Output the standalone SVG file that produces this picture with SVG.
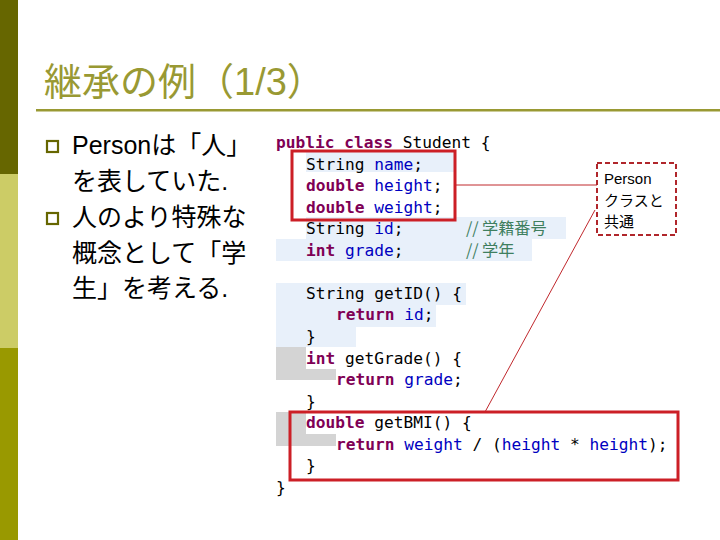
<svg xmlns="http://www.w3.org/2000/svg" width="720" height="540" viewBox="0 0 720 540">
<style>
.c{font-family:"DejaVu Sans Mono","Liberation Mono",monospace;font-size:16.2px;fill:#000}
.k{fill:#7f0055;font-weight:bold}
.f{fill:#0000c0}
.m{fill:#3f7f5f;font-family:"Noto Sans CJK JP",sans-serif}
.b{font-family:"Liberation Sans","Noto Sans CJK JP",sans-serif;font-size:25px;fill:#000}
.hl{fill:#e8f0fa}
.gr{fill:#d4d4d4}
.n{font-family:"Liberation Sans","Noto Sans CJK JP",sans-serif;font-size:15px}
</style>
<rect width="720" height="540" fill="#fff"/>
<rect x="0" y="0" width="18" height="174" fill="#666600"/>
<rect x="0" y="174" width="18" height="174" fill="#cccc66"/>
<rect x="0" y="348" width="18" height="192" fill="#999900"/>
<text x="44" y="95" font-family="Liberation Sans,'Noto Sans CJK JP',sans-serif" font-size="38" fill="#999933">継承の例（1/3）</text>
<rect x="36" y="109" width="684" height="2.5" fill="#999933"/>
<g id="bullets">
<rect x="47" y="141" width="11" height="11" fill="none" stroke="#666600" stroke-width="2.2"/>
<rect x="47" y="213" width="11" height="11" fill="none" stroke="#666600" stroke-width="2.2"/>
<text class="b" x="72" y="154">Personは「人」</text>
<text class="b" x="72" y="190">を表していた.</text>
<text class="b" x="72" y="226">人のより特殊な</text>
<text class="b" x="72" y="262">概念として「学</text>
<text class="b" x="72" y="297">生」を考える.</text>
</g>
<g id="highlights">
<rect class="hl" x="306" y="152" width="150" height="20"/>
<rect class="hl" x="306" y="217" width="190" height="44"/>
<rect class="hl" x="276" y="239" width="30" height="22"/>
<rect class="hl" x="496" y="217" width="70" height="22"/>
<rect class="hl" x="496" y="239" width="36" height="22"/>
<rect class="hl" x="276" y="283" width="190" height="22"/>
<rect class="hl" x="276" y="305" width="160" height="22"/>
<rect class="hl" x="276" y="327" width="80" height="20"/>
<rect class="gr" x="276" y="347" width="30" height="22"/>
<rect class="gr" x="276" y="369" width="60" height="11"/>
<rect class="gr" x="276" y="412" width="30" height="22"/>
<rect class="gr" x="276" y="434" width="60" height="12"/>
</g>
<g id="code" class="c">
<text x="276" y="148"><tspan class="k">public class</tspan> Student {</text>
<text x="306" y="170">String <tspan class="f">name</tspan>;</text>
<text x="306" y="191"><tspan class="k">double</tspan> <tspan class="f">height</tspan>;</text>
<text x="306" y="213"><tspan class="k">double</tspan> <tspan class="f">weight</tspan>;</text>
<text x="306" y="234">String <tspan class="f">id</tspan>;</text>
<text y="234" class="m"><tspan x="466">//</tspan><tspan x="482">学籍番号</tspan></text>
<text x="306" y="256"><tspan class="k">int</tspan> <tspan class="f">grade</tspan>;</text>
<text y="256" class="m"><tspan x="466">//</tspan><tspan x="482">学年</tspan></text>
<text x="306" y="299">String getID() {</text>
<text x="336" y="320"><tspan class="k">return</tspan> <tspan class="f">id</tspan>;</text>
<text x="306" y="342">}</text>
<text x="306" y="364"><tspan class="k">int</tspan> getGrade() {</text>
<text x="336" y="385"><tspan class="k">return</tspan> <tspan class="f">grade</tspan>;</text>
<text x="306" y="407">}</text>
<text x="306" y="428"><tspan class="k">double</tspan> getBMI() {</text>
<text x="336" y="450"><tspan class="k">return</tspan> <tspan class="f">weight</tspan> / (<tspan class="f">height</tspan> * <tspan class="f">height</tspan>);</text>
<text x="306" y="471">}</text>
<text x="276" y="493">}</text>
</g>
<g id="connectors" stroke="#c0282d" stroke-width="1">
<line x1="456" y1="185" x2="597" y2="185"/>
<line x1="595" y1="210" x2="485" y2="412"/>
</g>
<g id="boxes" fill="none">
<rect x="292" y="151" width="163" height="69" stroke="#cc1f26" stroke-width="3"/>
<rect x="290" y="412" width="388" height="68" stroke="#cc1f26" stroke-width="3"/>
</g>
<g id="note">
<rect x="597" y="163" width="79" height="72" fill="#fff" stroke="#b0262b" stroke-width="2" stroke-dasharray="5,3"/>
<text class="n" x="604" y="184">Person</text>
<text class="n" x="604" y="206">クラスと</text>
<text class="n" x="604" y="227">共通</text>
</g>
</svg>
